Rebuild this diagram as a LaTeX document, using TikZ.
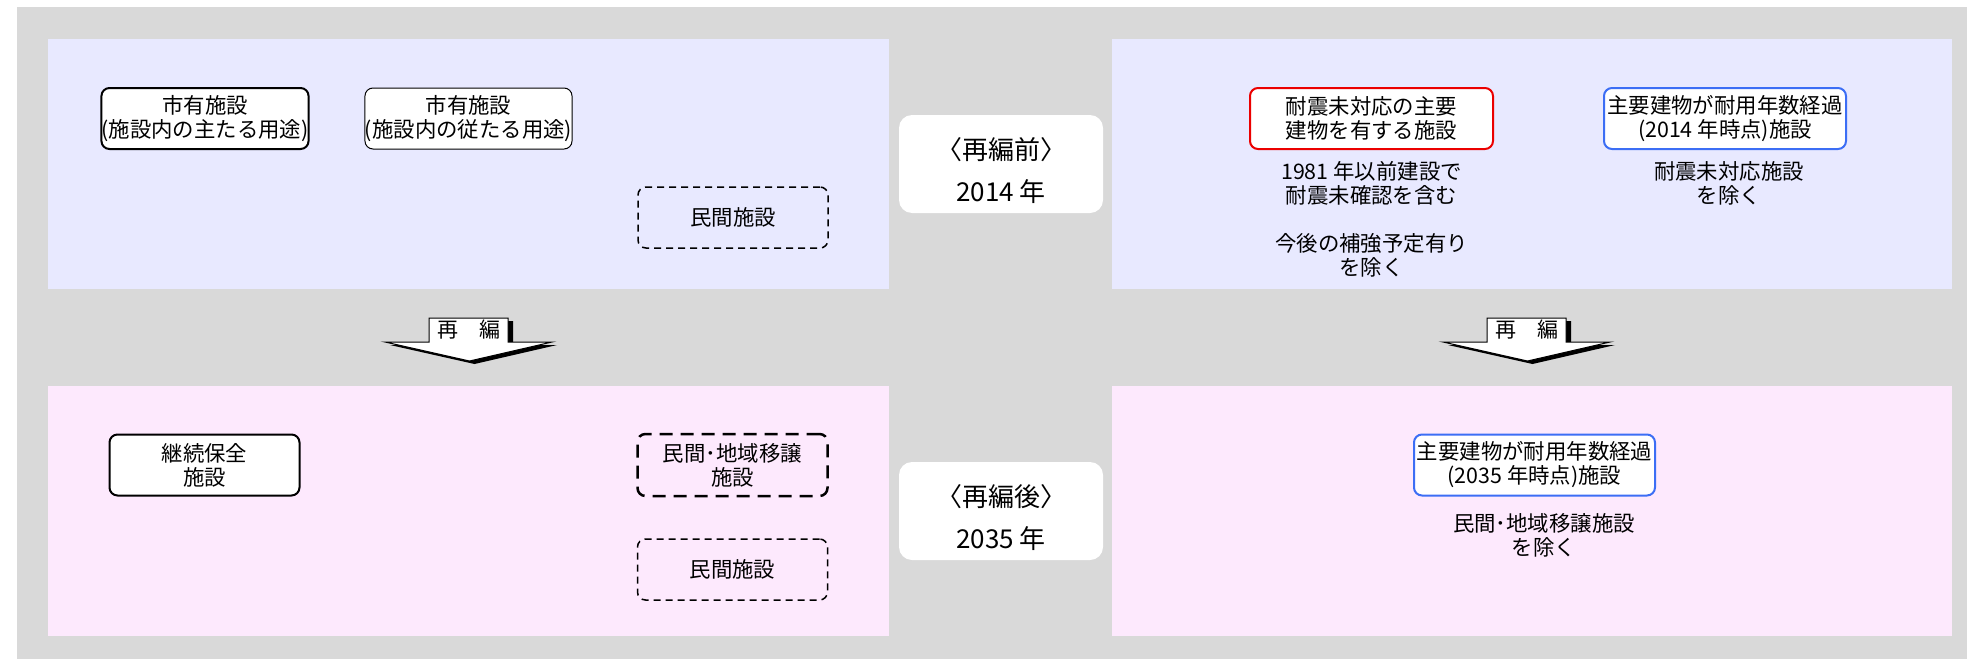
\documentclass[tikz,border=0pt]{standalone}
\usepackage{fontspec}
\setmainfont{Noto Sans CJK JP}
\definecolor{bgGray}{RGB}{217,217,217}
\definecolor{panelBlue}{RGB}{232,233,255}
\definecolor{panelPink}{RGB}{253,233,253}
\definecolor{boxRed}{RGB}{235,0,0}
\definecolor{boxBlue}{RGB}{60,110,245}
\tikzset{
  txt/.style={font=\fontsize{10.7pt}{12pt}\selectfont, inner sep=0pt, align=center},
  bigtxt/.style={font=\fontsize{13pt}{13.5pt}\selectfont, inner sep=0pt, align=center},
  arrtxt/.style={font=\fontsize{10.5pt}{11pt}\selectfont, inner sep=0pt},
  facbox/.style={txt, draw=black, fill=white, rounded corners=4pt, minimum width=95pt, minimum height=30.5pt},
  mainbox/.style={facbox, line width=1pt},
  subbox/.style={facbox, line width=0.5pt},
  privbox/.style={txt, draw=black, rounded corners=4pt, minimum width=95pt, minimum height=30.5pt, line width=0.75pt, dash pattern=on 3.5pt off 2.5pt},
  transbox/.style={txt, draw=black, rounded corners=4pt, minimum width=95pt, minimum height=31pt, line width=1.25pt, dash pattern=on 6.5pt off 4pt},
  redbox/.style={facbox, draw=boxRed, line width=1pt, minimum width=121.5pt},
  bluebox/.style={facbox, draw=boxBlue, line width=1pt, minimum width=121pt},
  yearbox/.style={fill=white, rounded corners=6.5pt, minimum width=102pt, minimum height=49pt, inner sep=0pt},
  renshape/.style={fill=white, draw=black, line width=0.5pt},
  renshadow/.style={fill=black},
}
\begin{document}
\begin{tikzpicture}[x=0.5pt,y=-0.5pt]
\useasboundingbox (0,0) rectangle (1967,659);
\fill[white] (0,0) rectangle (1967,659);
\fill[bgGray] (17,7) rectangle (1967,659);
% panels
\fill[panelBlue] (48,39) rectangle (889,289);
\fill[panelBlue] (1112,39) rectangle (1952,289);
\fill[panelPink] (48,386) rectangle (889,636);
\fill[panelPink] (1112,386) rectangle (1952,636);

% top-left panel
\node[mainbox] (own1) at (205,118.5) {市有施設\\(施設内の主たる用途)};
\node[subbox] (own2) at (468.5,118.5) {市有施設\\(施設内の従たる用途)};
\node[privbox] (priv1) at (733,217.5) {民間施設};

% year boxes
\node[yearbox] (year1) at (1001,164) {};
\node[bigtxt] (year1a) at (1001,150) {〈再編前〉};
\node[bigtxt] (year1b) at (1001,192) {2014 年};
\node[yearbox] (year2) at (1001,511) {};
\node[bigtxt] (year2a) at (1001,497) {〈再編後〉};
\node[bigtxt] (year2b) at (1001,539) {2035 年};

% top-right panel
\node[redbox] (seis) at (1371.5,118.5) {耐震未対応の主要\\建物を有する施設};
\node[bluebox] (life1) at (1725,118.5) {主要建物が耐用年数経過\\(2014 年時点)施設};
\node[txt] (noteA) at (1371.5,183) {1981 年以前建設で\\耐震未確認を含む};
\node[txt] (noteB) at (1371.5,255) {今後の補強予定有り\\を除く};
\node[txt] (noteC) at (1729,183) {耐震未対応施設\\を除く};

% bottom-left panel
\node[mainbox] (cont) at (204.5,465) {継続保全\\施設};
\node[transbox] (trans) at (732.5,465) {民間･地域移譲\\施設};
\node[privbox] (priv2) at (732.5,569.5) {民間施設};

% bottom-right panel
\node[bluebox, minimum width=120.5pt] (life2) at (1534.5,465) {主要建物が耐用年数経過\\(2035 年時点)施設};
\node[txt] (noteD) at (1544,535) {民間･地域移譲施設\\を除く};

% reorganisation arrows
\begin{scope}[shift={(468.5,0)}]
  \fill[renshadow] (-34.5,321) -- (44.5,321) -- (44.5,345) -- (88.5,345) -- (6,364) -- (-78.5,345) -- (-34.5,345) -- cycle;
  \filldraw[renshape] (-39.5,318) -- (39.5,318) -- (39.5,342) -- (83.5,342) -- (1,361) -- (-83.5,342) -- (-39.5,342) -- cycle;
  \node[arrtxt] (ren1) at (0,330) {再　編};
\end{scope}
\begin{scope}[shift={(1526.5,0)}]
  \fill[renshadow] (-34.5,321) -- (44.5,321) -- (44.5,345) -- (88.5,345) -- (6,364) -- (-78.5,345) -- (-34.5,345) -- cycle;
  \filldraw[renshape] (-39.5,318) -- (39.5,318) -- (39.5,342) -- (83.5,342) -- (1,361) -- (-83.5,342) -- (-39.5,342) -- cycle;
  \node[arrtxt] (ren2) at (0,330) {再　編};
\end{scope}
\end{tikzpicture}
\end{document}
